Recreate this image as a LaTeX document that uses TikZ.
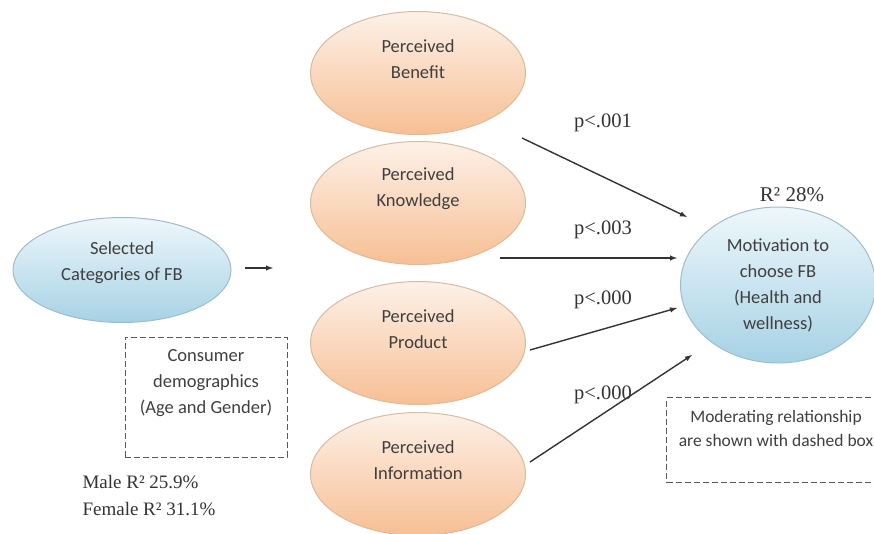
\documentclass[tikz,border=0pt]{standalone}
\usepackage{fontspec}
\setmainfont{Liberation Serif}
\setsansfont{Carlito}
\usetikzlibrary{shapes.geometric}
\definecolor{percTop}{HTML}{FDF1E8}
\definecolor{percBot}{HTML}{F7BF94}
\definecolor{percLine}{HTML}{D9BC9E}
\definecolor{motTop}{HTML}{EEF7FB}
\definecolor{motBot}{HTML}{A6D2E5}
\definecolor{motLine}{HTML}{A0BCC8}
\definecolor{txtGray}{HTML}{3F3F3F}
\tikzset{
	perc/.style={ellipse, draw=percLine, line width=1pt, top color=percTop, bottom color=percBot, minimum width=215pt, minimum height=123pt},
	blueell/.style={ellipse, draw=motLine, line width=1pt, top color=motTop, bottom color=motBot},
	sanstxt/.style={text=txtGray, align=center, font=\sffamily\fontsize{18.5}{26}\selectfont},
	pval/.style={text=black!80, font=\fontsize{20.5}{26}\selectfont},
	dbox/.style={draw=black!65, line width=1pt, dash pattern=on 6pt off 3pt},
	arr/.style={-latex, draw=black!80, line width=1.4pt}
}
\begin{document}
\begin{tikzpicture}[x=1pt, y=-1pt]
	\clip (0,0) rectangle (874,534);
	
	\node[blueell, minimum width=218pt, minimum height=105pt] (sel) at (122,270) {};
	\node[sanstxt] (selT) at (122,263) {Selected\\Categories of FB};
	
	\foreach \n/\y/\t in {ben/73/Benefit, kno/203/Knowledge, pro/343/Product, inf/474/Information}
	{
		\node[perc] (\n) at (418,\y) {};
		\node[sanstxt] (\n T) at ([yshift=14pt]\n.center) {Perceived\\\t};
	}
	
	\node[blueell, minimum width=195pt, minimum height=156pt] (mot) at (778,285) {};
	\node[sanstxt] (motT) at (mot.center) {Motivation to\\choose FB\\(Health and\\wellness)};
	\node[pval, font=\fontsize{21}{26}\selectfont] (r2) at (792,195) {R² 28\%};
	
	% dashed boxes
	\node[dbox, minimum width=162pt, minimum height=120pt] (dem) at (206,397) {};
	\node[sanstxt] (demT) at (206,383) {Consumer\\demographics\\(Age and Gender)};
	\node[dbox, minimum width=217pt, minimum height=85pt] (mod) at (775,440) {};
	\node[sanstxt, font=\sffamily\fontsize{17.5}{24}\selectfont] (modT) at (776,428) {Moderating relationship\\are shown with dashed box};
	
	\node[pval, font=\fontsize{19}{27}\selectfont, anchor=west, align=left] (r2mf) at (79,496) {Male R² 25.9\%\\Female R² 31.1\%};
	
	% arrows
	\coordinate (s0) at (245,268);
	\coordinate (e0) at (273,268);
	\coordinate (s1) at (522,138);
	\coordinate (e1) at (687,217);
	\coordinate (s2) at (500,258);
	\coordinate (e2) at (677,258);
	\coordinate (s3) at (530,350);
	\coordinate (e3) at (677,308);
	\coordinate (s4) at (530,462);
	\coordinate (e4) at (692,355);
	\draw[arr] (s0) -- (e0);
	\foreach \i in {1,2,3,4}
	{
		\draw[arr] (s\i) -- (e\i);
	}
	
	\foreach \i/\y/\l in {1/123/.001, 2/230/.003, 3/300/.000, 4/395/.000}
	{
		\node[pval] (p\i) at (603,\y) {p<\l};
	}
\end{tikzpicture}
\end{document}
